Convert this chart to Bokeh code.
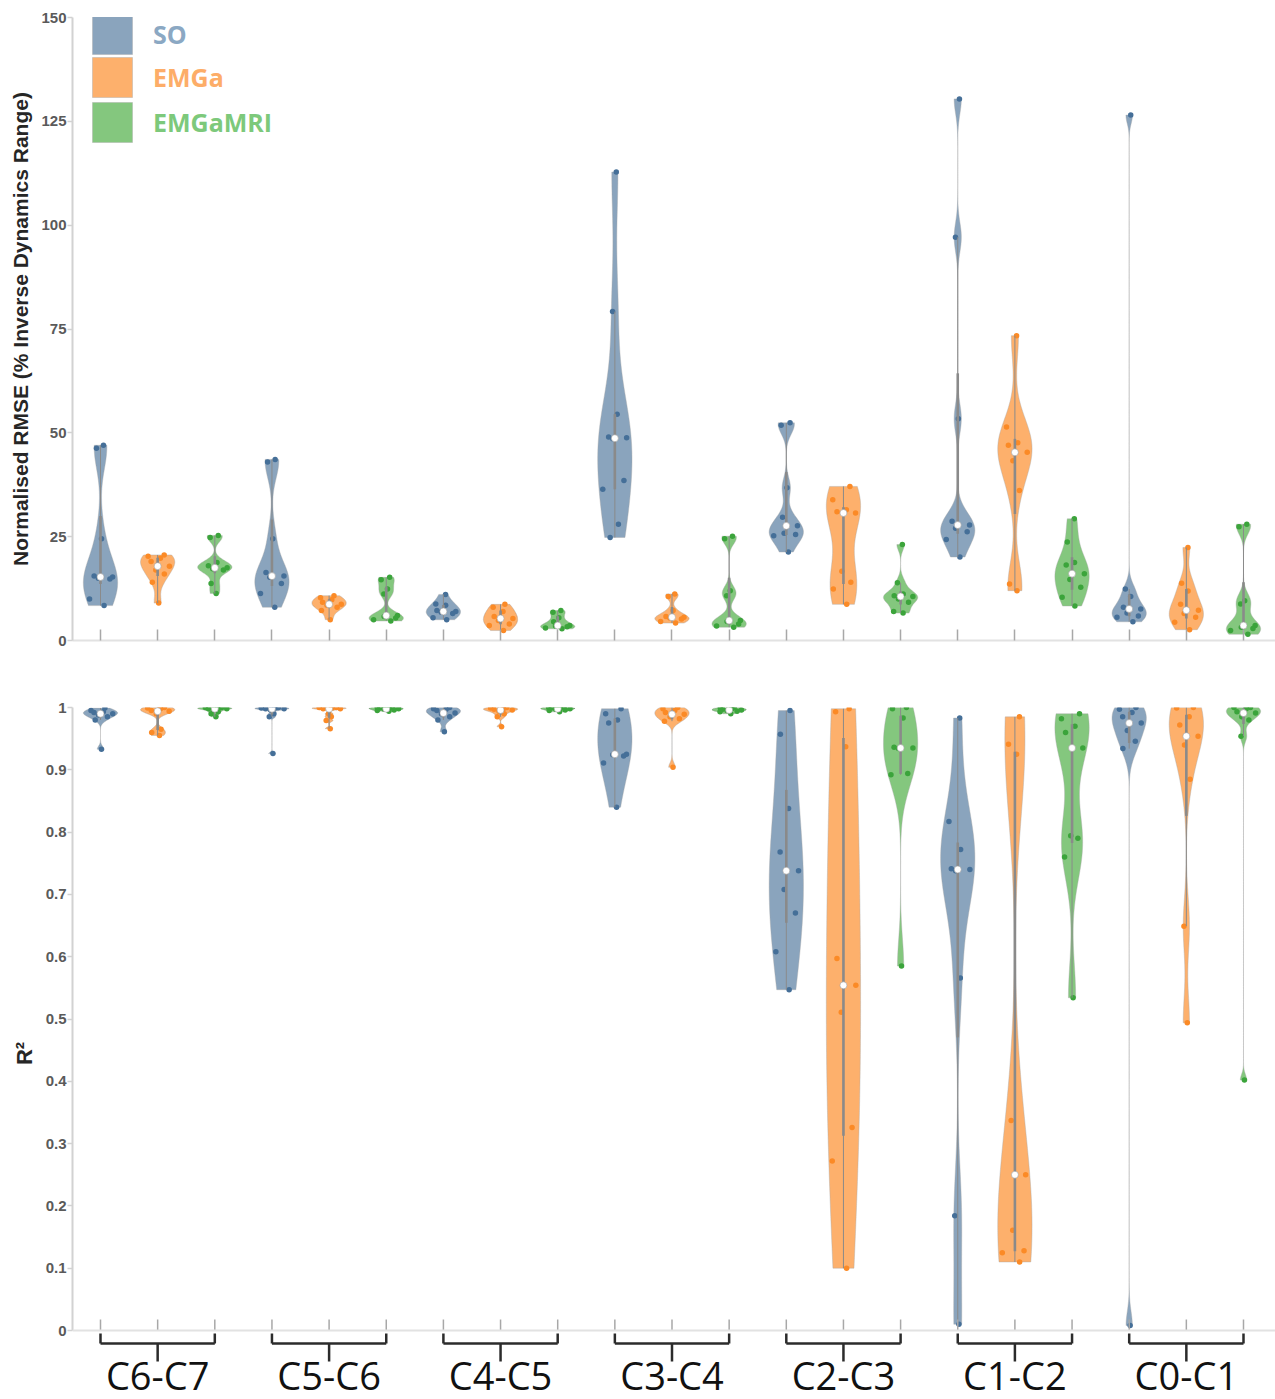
import numpy as np
from bokeh.plotting import figure
from bokeh.layouts import column
from bokeh.models import Range1d, FixedTicker, Legend, LegendItem, Span
from bokeh.embed import file_html
from bokeh.resources import INLINE
from bokeh.core.properties import value

# ---------------- data ----------------
GROUPS = ["C6-C7", "C5-C6", "C4-C5", "C3-C4", "C2-C3", "C1-C2", "C0-C1"]
METHODS = ["SO", "EMGa", "EMGaMRI"]

RMSE_SO = [
    [47.0, 46.3, 24.5, 15.5, 15.3, 15.0, 14.8, 10.0, 8.4],
    [43.6, 43.0, 24.5, 16.4, 15.5, 15.2, 13.7, 11.3, 8.0],
    [11.1, 8.8, 8.5, 7.2, 7.0, 6.8, 6.5, 5.5, 5.0],
    [112.8, 79.2, 54.5, 49.0, 48.8, 48.6, 38.5, 36.4, 28.0, 24.8],
    [52.4, 51.8, 36.8, 29.7, 27.6, 25.8, 25.5, 25.2, 21.3],
    [130.4, 97.1, 53.4, 28.7, 27.8, 27.0, 26.2, 24.3, 20.1],
    [126.5, 12.4, 10.6, 8.0, 7.6, 6.6, 5.9, 5.6, 4.5],
]
RMSE_EMGA = [
    [20.6, 20.3, 19.8, 19.0, 17.9, 17.0, 16.0, 14.0, 9.0],
    [10.8, 10.3, 9.8, 9.2, 8.7, 8.5, 8.0, 7.2, 5.0],
    [8.7, 8.0, 7.0, 5.8, 5.3, 4.8, 4.0, 3.6, 2.4],
    [11.2, 10.6, 7.2, 5.8, 5.6, 5.4, 5.2, 4.6, 4.2],
    [37.1, 33.9, 31.5, 31.0, 30.7, 16.7, 14.0, 12.4, 8.7],
    [73.4, 51.4, 47.6, 47.0, 45.3, 43.3, 36.1, 13.6, 12.0],
    [22.4, 13.8, 11.9, 8.7, 7.3, 6.5, 5.6, 4.4, 2.6],
]
RMSE_EMGAMRI = [
    [25.3, 24.8, 18.8, 18.0, 17.5, 17.3, 17.0, 13.7, 11.3],
    [15.2, 14.6, 12.4, 11.2, 6.0, 5.8, 5.4, 5.0, 4.7],
    [7.2, 6.8, 5.5, 4.5, 3.6, 3.5, 3.3, 3.0, 2.8],
    [25.1, 24.5, 12.0, 10.8, 4.8, 4.6, 4.0, 3.5, 3.2],
    [23.1, 13.9, 11.2, 10.8, 10.6, 10.0, 9.2, 7.0, 6.6],
    [29.3, 23.7, 18.8, 18.2, 16.1, 14.7, 12.8, 10.4, 8.3],
    [28.0, 27.4, 9.6, 8.8, 3.6, 3.2, 2.9, 2.4, 1.5],
]

R2_SO = [
    [0.999, 0.995, 0.993, 0.992, 0.990, 0.988, 0.985, 0.980, 0.933],
    [1.0, 0.999, 0.999, 0.998, 0.998, 0.996, 0.990, 0.985, 0.926],
    [1.0, 0.998, 0.997, 0.995, 0.991, 0.990, 0.985, 0.980, 0.961],
    [0.998, 0.990, 0.980, 0.975, 0.925, 0.924, 0.922, 0.911, 0.840],
    [0.995, 0.957, 0.838, 0.768, 0.738, 0.708, 0.670, 0.608, 0.547],
    [0.983, 0.817, 0.772, 0.741, 0.740, 0.738, 0.566, 0.184, 0.010],
    [1.0, 0.997, 0.992, 0.985, 0.975, 0.963, 0.946, 0.934, 0.008],
]
R2_EMGA = [
    [1.0, 0.999, 0.998, 0.995, 0.994, 0.990, 0.965, 0.960, 0.955],
    [1.0, 1.0, 0.999, 0.998, 0.998, 0.990, 0.985, 0.979, 0.966],
    [1.0, 0.999, 0.998, 0.997, 0.996, 0.994, 0.990, 0.985, 0.969],
    [1.0, 0.998, 0.995, 0.992, 0.989, 0.985, 0.982, 0.978, 0.904],
    [0.998, 0.993, 0.937, 0.597, 0.554, 0.511, 0.326, 0.272, 0.100],
    [0.985, 0.941, 0.925, 0.337, 0.250, 0.161, 0.128, 0.125, 0.110],
    [1.0, 0.999, 0.985, 0.972, 0.954, 0.940, 0.885, 0.649, 0.494],
]
R2_EMGAMRI = [
    [1.0, 1.0, 0.999, 0.998, 0.998, 0.996, 0.993, 0.990, 0.985],
    [1.0, 1.0, 0.999, 0.999, 0.998, 0.997, 0.996, 0.995, 0.994],
    [1.0, 1.0, 0.999, 0.999, 0.998, 0.997, 0.996, 0.995, 0.993],
    [1.0, 0.999, 0.998, 0.997, 0.996, 0.995, 0.994, 0.993, 0.990],
    [1.0, 0.998, 0.983, 0.936, 0.935, 0.934, 0.894, 0.892, 0.585],
    [0.990, 0.982, 0.970, 0.960, 0.935, 0.794, 0.790, 0.760, 0.534],
    [1.0, 1.0, 0.998, 0.993, 0.991, 0.985, 0.980, 0.954, 0.402],
]

RMSE_TICKS = [0, 25, 50, 75, 100, 125, 150]
R2_TICKS = [round(i * 0.1, 1) for i in range(11)]

# ---------------- styles ----------------
FILL = ["#8aa4bd", "#fdb06c", "#84c77e"]
DOT = ["#456f98", "#fb8a26", "#3ba43b"]
LEGEND_TXT = ["#8ba8c3", "#fdad68", "#7dc97b"]
AXIS_GREY = "#d2d2d2"
BASE_GREY = "#e2e2e2"
TICK_GREY = "#a8a8a8"
BOX_GREY = "#8a8a8a"
VIOLIN_HALF = 0.3
JIT = [0.55, -0.75, 0.2, -0.45, 0.85, -0.15, 0.65, -0.9, 0.35, -0.55]

W = 1275
LEFT = 72
FRAME_H = 623
X_RANGE = (0.51, 21.56)


def kde_shape(data):
    x = np.asarray(data, float)
    n = len(x)
    sig = np.median(np.abs(x - np.median(x))) / 0.6745
    if sig <= 0:
        sig = x.max() - x.min()
    bw = sig * (4.0 / (3.0 * n)) ** 0.2
    grid = np.linspace(x.min(), x.max(), 260)
    dens = np.exp(-0.5 * ((grid[:, None] - x[None, :]) / bw) ** 2).sum(axis=1)
    half = dens / dens.max() * VIOLIN_HALF
    return grid, half


def stats(data):
    x = np.asarray(data, float)
    q1, med, q3 = np.quantile(x, [0.25, 0.5, 0.75], method="hazen")
    iqr = q3 - q1
    lo = q1 - 1.5 * iqr
    lo = max(lo, x[x > lo].min())
    hi = q3 + 1.5 * iqr
    hi = min(hi, x[x < hi].max())
    return q1, med, q3, lo, hi


def draw_violins(p, series):
    renderers = []
    for m, groups in enumerate(series):
        xs, ys = [], []
        for g, data in enumerate(groups):
            pos = 3 * g + m + 1
            grid, half = kde_shape(data)
            xs.append(list(np.concatenate([pos - half, (pos + half)[::-1]])))
            ys.append(list(np.concatenate([grid, grid[::-1]])))
        r = p.patches(xs, ys, fill_color=FILL[m], fill_alpha=1.0,
                      line_color="#a8a8a8", line_alpha=0.4, line_width=1)
        renderers.append(r)
    for m, groups in enumerate(series):
        dx, dy = [], []
        for g, data in enumerate(groups):
            pos = 3 * g + m + 1
            grid, half = kde_shape(data)
            for i, v in enumerate(data):
                w = np.interp(v, grid, half)
                dx.append(pos + JIT[i % len(JIT)] * w * 0.85)
                dy.append(v)
        p.scatter(dx, dy, size=5.5, fill_color=DOT[m], line_color=None)
    wx, wlo, whi, bq1, bq3, my = [], [], [], [], [], []
    for m, groups in enumerate(series):
        for g, data in enumerate(groups):
            pos = 3 * g + m + 1
            q1, med, q3, lo, hi = stats(data)
            wx.append(pos); wlo.append(lo); whi.append(hi)
            bq1.append(q1); bq3.append(q3); my.append(med)
    p.segment(x0=wx, y0=wlo, x1=wx, y1=whi, line_color=BOX_GREY, line_width=1)
    p.segment(x0=wx, y0=bq1, x1=wx, y1=bq3, line_color=BOX_GREY, line_width=2.6)
    p.scatter(wx, my, size=7, fill_color="white", line_color="#a0a0a0", line_width=0.6)
    return renderers


def style_yaxis(ax, ticks, label, label_size):
    ax.ticker = FixedTicker(ticks=ticks)
    ax.axis_line_color = AXIS_GREY
    ax.axis_line_width = 2
    ax.major_tick_line_color = AXIS_GREY
    ax.major_tick_line_width = 1.5
    ax.major_tick_out = 5
    ax.major_tick_in = 0
    ax.minor_tick_line_color = None
    ax.major_label_text_font = "Liberation Sans"
    ax.major_label_text_font_size = "15px"
    ax.major_label_text_font_style = "bold"
    ax.major_label_text_color = "#5a5a5a"
    ax.major_label_standoff = 1
    ax.axis_label = label
    ax.axis_label_text_font = "Liberation Sans"
    ax.axis_label_text_font_size = label_size
    ax.axis_label_text_font_style = "bold"
    ax.axis_label_text_color = "#262626"
    ax.axis_label_standoff = 6


POSITIONS = [3 * g + m + 1 for g in range(len(GROUPS)) for m in range(len(METHODS))]

# ---------------- top panel: RMSE ----------------
top = figure(width=W, frame_height=FRAME_H, x_range=Range1d(*X_RANGE),
             y_range=Range1d(0, 150), output_backend="svg", toolbar_location=None,
             min_border_left=LEFT, min_border_right=0, min_border_top=17,
             min_border_bottom=40)
top.outline_line_color = None
top.grid.visible = False

rend = draw_violins(top, [RMSE_SO, RMSE_EMGA, RMSE_EMGAMRI])
style_yaxis(top.yaxis[0], RMSE_TICKS, "Normalised RMSE (% Inverse Dynamics Range)", "21px")

xa = top.xaxis[0]
xa.ticker = FixedTicker(ticks=POSITIONS)
xa.major_label_overrides = {p: "" for p in POSITIONS}
xa.major_tick_in = 11
xa.major_tick_out = 0
xa.major_tick_line_color = TICK_GREY
xa.major_tick_line_width = 1.5
xa.minor_tick_line_color = None
xa.axis_line_color = BASE_GREY
xa.axis_line_width = 2

legend_bottoms = [581, 538, 493]
for m in range(3):
    leg = Legend(items=[LegendItem(label=METHODS[m], renderers=[rend[m]])],
                 location=(15, legend_bottoms[m]))
    leg.glyph_width = 50
    leg.glyph_height = 50
    leg.label_height = 50
    leg.padding = 0
    leg.margin = 0
    leg.spacing = 0
    leg.border_line_color = None
    leg.background_fill_alpha = 0
    leg.label_standoff = 16
    leg.label_text_font = "Open Sans"
    leg.label_text_font_style = "bold"
    leg.label_text_font_size = "25px"
    leg.label_text_color = LEGEND_TXT[m]
    top.add_layout(leg)

# ---------------- bottom panel: R2 (+ group brackets below zero) ----------------
EXTRA_PX = 69
Y_LOW = -EXTRA_PX / FRAME_H
bot = figure(width=W, frame_height=FRAME_H + EXTRA_PX, x_range=top.x_range,
             y_range=Range1d(Y_LOW, 1.0), output_backend="svg", toolbar_location=None,
             min_border_left=LEFT, min_border_right=0, min_border_top=27,
             min_border_bottom=0, x_axis_location=None)
bot.outline_line_color = None
bot.grid.visible = False

draw_violins(bot, [R2_SO, R2_EMGA, R2_EMGAMRI])
ya = bot.yaxis[0]
style_yaxis(ya, R2_TICKS, "R²", "22px")
ya.bounds = (0, 1)
ya.major_label_overrides = {t: ("0" if t == 0 else "1" if t == 1 else f"{t:.1f}") for t in R2_TICKS}

bot.add_layout(Span(location=0, dimension="width", line_color=BASE_GREY, line_width=2))
TICK_LEN = 11 / FRAME_H
bot.segment(x0=POSITIONS, y0=[0] * len(POSITIONS), x1=POSITIONS,
            y1=[TICK_LEN] * len(POSITIONS), line_color=TICK_GREY, line_width=1.5)

# brackets (distances in px below the zero line)
CAP_TOP, BAR_Y, STUB_Y, TXT_Y = 3, 13, 31, 44
px = lambda d: -d / FRAME_H
g_left = [3 * g + 1 for g in range(len(GROUPS))]
g_mid = [3 * g + 2 for g in range(len(GROUPS))]
g_right = [3 * g + 3 for g in range(len(GROUPS))]
n = len(GROUPS)
BR = "#2b2b2b"
bot.segment(x0=g_left, y0=[px(BAR_Y)] * n, x1=g_right, y1=[px(BAR_Y)] * n, line_color=BR, line_width=2.5)
bot.segment(x0=g_left, y0=[px(BAR_Y)] * n, x1=g_left, y1=[px(CAP_TOP)] * n, line_color=BR, line_width=2.5)
bot.segment(x0=g_right, y0=[px(BAR_Y)] * n, x1=g_right, y1=[px(CAP_TOP)] * n, line_color=BR, line_width=2.5)
bot.segment(x0=g_mid, y0=[px(BAR_Y)] * n, x1=g_mid, y1=[px(STUB_Y)] * n, line_color=BR, line_width=2.5)
bot.text(x=g_mid, y=[px(TXT_Y)] * n, text=GROUPS, text_font=value("Open Sans"),
         text_font_size="38px", text_align="center", text_baseline="alphabetic",
         text_color="#111111")

layout = column(top, bot, spacing=0)
open("out.html", "w").write(file_html(layout, INLINE))
